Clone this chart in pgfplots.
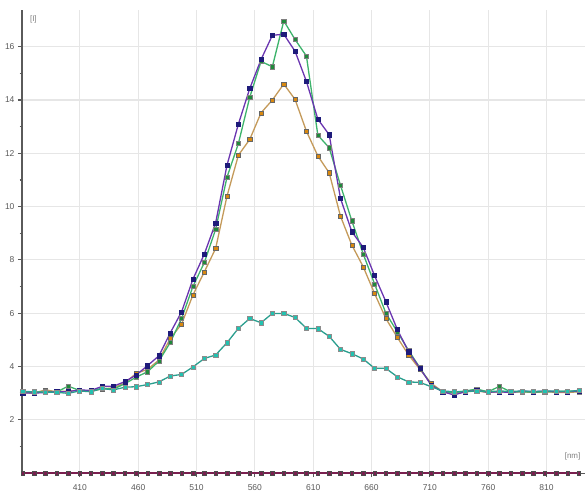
\documentclass[border=0pt]{standalone}
\usepackage{fontspec}
\setmainfont{Liberation Sans}
\usepackage{pgfplots}
\usepackage{pgfplotstable}
\pgfplotsset{compat=1.18}
\definecolor{cpurple}{HTML}{6A35B0}
\definecolor{cpurplem}{HTML}{1E1B7A}
\definecolor{cgreen}{HTML}{3DB36B}
\definecolor{cgreenm}{HTML}{1F8A3A}
\definecolor{corange}{HTML}{C49A5A}
\definecolor{corangem}{HTML}{D9880F}
\definecolor{cteal}{HTML}{2A9E8E}
\definecolor{ctealm}{HTML}{22C2B0}
\definecolor{czero}{HTML}{7A2050}
\definecolor{gridc}{HTML}{E6E6E6}
\definecolor{tickc}{HTML}{5A5A5A}
\pgfplotstableread{
x p g o t z
361.0 3.00 3.05 3.02 3.06 0
370.7 3.00 3.02 3.00 3.05 0
380.5 3.02 3.05 3.12 3.03 0
390.2 3.05 3.04 3.05 3.03 0
399.9 3.05 3.26 3.08 2.99 0
409.7 3.12 3.10 3.10 3.08 0
419.4 3.10 3.08 3.08 3.05 0
429.1 3.25 3.18 3.15 3.17 0
438.8 3.26 3.15 3.20 3.12 0
448.6 3.43 3.35 3.38 3.22 0
458.3 3.68 3.60 3.74 3.24 0
468.0 4.03 3.80 3.89 3.32 0
477.8 4.40 4.20 4.24 3.42 0
487.5 5.26 4.90 5.05 3.64 0
497.2 6.05 5.80 5.59 3.70 0
506.9 7.27 7.00 6.68 3.98 0
516.7 8.22 7.90 7.55 4.30 0
526.4 9.39 9.15 8.43 4.43 0
536.1 11.55 11.10 10.39 4.89 0
545.9 13.10 12.37 11.93 5.43 0
555.6 14.43 14.10 12.52 5.80 0
565.3 15.52 15.45 13.52 5.64 0
575.0 16.43 15.25 14.00 5.99 0
584.8 16.47 16.97 14.60 5.99 0
594.5 15.83 16.27 14.02 5.84 0
604.2 14.70 15.65 12.83 5.43 0
614.0 13.28 12.68 11.90 5.42 0
623.7 12.70 12.21 11.27 5.13 0
633.4 10.31 10.80 9.64 4.64 0
643.1 9.06 9.47 8.56 4.48 0
652.9 8.47 8.22 7.74 4.28 0
662.6 7.41 7.10 6.74 3.93 0
672.3 6.43 6.00 5.80 3.93 0
682.1 5.39 5.30 5.09 3.61 0
691.8 4.55 4.60 4.43 3.42 0
701.5 3.93 3.95 3.89 3.40 0
711.2 3.30 3.30 3.37 3.24 0
721.0 3.05 3.05 3.05 3.08 0
730.7 2.93 3.02 3.00 3.05 0
740.4 3.05 3.08 3.05 3.06 0
750.2 3.10 3.15 3.08 3.08 0
759.9 3.03 3.05 3.02 3.05 0
769.6 3.05 3.25 3.05 3.08 0
779.3 3.02 3.05 3.03 3.06 0
789.1 3.08 3.05 3.05 3.08 0
798.8 3.05 3.03 3.02 3.06 0
808.5 3.08 3.05 3.05 3.07 0
818.3 3.05 3.05 3.03 3.08 0
828.0 3.05 3.08 3.02 3.06 0
837.7 3.08 3.05 3.05 3.10 0
}\data
\begin{document}
\begin{tikzpicture}
\path[use as bounding box] (-22pt,-25pt) rectangle (563pt,473pt);
\begin{axis}[
  at={(0,0)}, anchor=south west,
  scale only axis, width=563pt, height=463pt,
  xmin=360.4, xmax=843, ymin=0, ymax=17.38,
  axis x line=bottom, axis y line=left,
  axis line style={-},
  x axis line style={draw=tickc, line width=1pt},
  y axis line style={draw=tickc, line width=1.8pt},
  xtick={410,460,...,810},
  ytick={2,4,...,16},
  minor ytick={1,3,...,15},
  grid=major,
  major grid style={gridc, line width=1.2pt},
  tick style={draw=tickc, line width=1.2pt},
  major tick length=4pt, minor tick length=2.5pt,
  tick align=outside,
  ticklabel style={font=\fontsize{8.5}{9}\selectfont, text=tickc},
  /pgf/number format/assume math mode=true,
  /pgf/number format/1000 sep={},
  xticklabel style={yshift=-4pt},
  clip=false,
  every axis plot/.append style={line width=1.3pt, mark=square*, mark size=2.1pt},
]
\addplot[color=czero, mark options={fill=czero, draw=black!70, line width=0.4pt}, mark size=1.8pt] table[x=x,y=z]{\data};
\addplot[color=corange, mark options={fill=corangem, draw=black!60, line width=0.4pt}] table[x=x,y=o]{\data};
\addplot[color=cgreen, mark options={fill=cgreenm, draw=black!50, line width=0.4pt}] table[x=x,y=g]{\data};
\addplot[color=cpurple, mark options={fill=cpurplem, draw=cpurplem, line width=0.4pt}] table[x=x,y=p]{\data};
\addplot[color=cteal, mark options={fill=ctealm, draw=black!45, line width=0.4pt}] table[x=x,y=t]{\data};
\node[anchor=north west, font=\fontsize{8}{9}\selectfont, text=gray] at (rel axis cs:0.008,0.995) {[I]};
\node[anchor=south east, font=\fontsize{8}{9}\selectfont, text=gray] at (rel axis cs:0.998,0.02) {[nm]};
\end{axis}
\end{tikzpicture}
\end{document}
